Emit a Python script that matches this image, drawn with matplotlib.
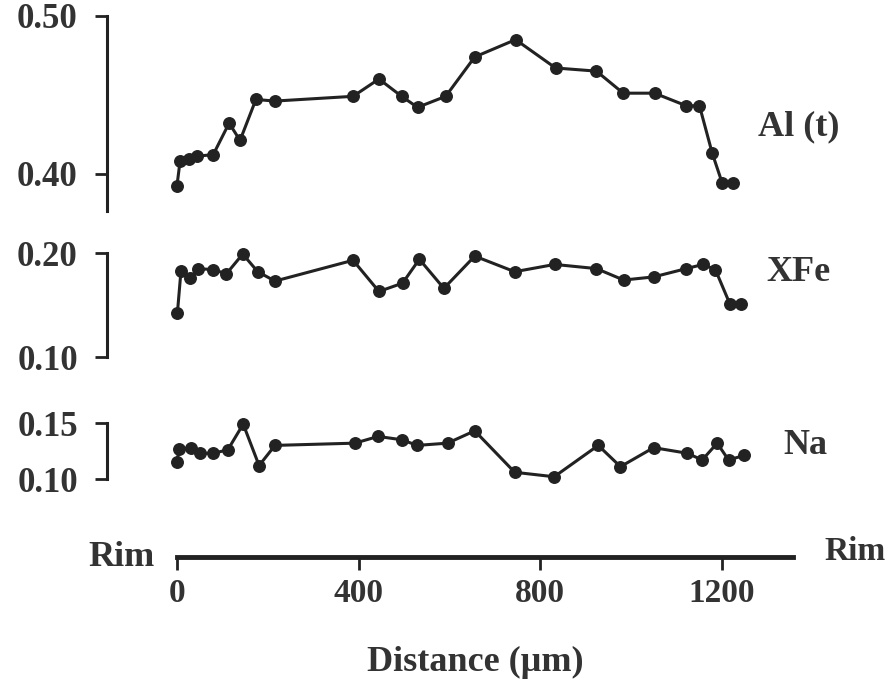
import matplotlib
matplotlib.use('Agg')
import matplotlib.pyplot as plt

# Профили по зерну: расстояние (мкм) и значения
al_x = [0, 7, 27, 45, 80, 115, 139, 174, 216, 388, 445, 495, 530, 592, 656, 746, 834, 924, 983, 1052, 1122, 1151, 1179, 1201, 1225]
al_y = [0.392, 0.408, 0.409, 0.411, 0.412, 0.432, 0.421, 0.447, 0.446, 0.449, 0.460, 0.449, 0.442, 0.449, 0.474, 0.485, 0.467, 0.465, 0.451, 0.451, 0.443, 0.443, 0.413, 0.394, 0.394]

xfe_x = [1, 9, 29, 47, 80, 109, 145, 178, 216, 388, 445, 497, 534, 588, 656, 744, 832, 924, 984, 1050, 1122, 1159, 1186, 1218, 1243]
xfe_y = [0.142, 0.183, 0.176, 0.185, 0.184, 0.180, 0.199, 0.182, 0.173, 0.193, 0.163, 0.171, 0.194, 0.166, 0.197, 0.182, 0.189, 0.185, 0.174, 0.177, 0.185, 0.189, 0.184, 0.151, 0.151]

na_x = [0, 5, 30, 51, 80, 112, 146, 181, 216, 392, 443, 496, 529, 596, 656, 744, 831, 928, 977, 1050, 1124, 1157, 1190, 1215, 1249]
na_y = [0.1155, 0.1265, 0.128, 0.123, 0.123, 0.126, 0.149, 0.112, 0.130, 0.132, 0.138, 0.135, 0.130, 0.132, 0.143, 0.106, 0.102, 0.130, 0.111, 0.128, 0.123, 0.117, 0.132, 0.117, 0.121]

labels = ['Al (t)', 'XFe', 'Na']
yticks = [[0.40, 0.50], [0.10, 0.20], [0.10, 0.15]]
ylims = [(0.3762, 0.50), (0.10, 0.20), (0.10, 0.15)]
x_ticks = [0, 400, 800, 1200]

plt.rcParams['font.family'] = 'Liberation Serif'
plt.rcParams['font.weight'] = 'bold'
line_c = '#222222'
text_c = '#333333'

W, H = 889, 693
fig = plt.figure(figsize=(W / 100, H / 100), dpi=100)

def box(x0, y0, x1, y1):
    # пиксели -> доли фигуры
    return [x0 / W, 1 - y1 / H, (x1 - x0) / W, (y1 - y0) / H]

xlim = (-154, 1357)
panels = [box(107, 16, 793, 211), box(107, 253, 793, 357), box(107, 423, 793, 479)]
series = [(al_x, al_y), (xfe_x, xfe_y), (na_x, na_y)]
label_pos = [(1369, 0.4298), (1370, 0.1817), (1384, 0.130)]

for i, rect in enumerate(panels):
    ax = fig.add_axes(rect)
    x, y = series[i]
    ax.plot(x, y, '-o', color=line_c, lw=2.2, ms=8.3, clip_on=False)
    ax.set_xlim(*xlim)
    ax.set_ylim(*ylims[i])
    for s in ['top', 'right', 'bottom']:
        ax.spines[s].set_visible(False)
    ax.spines['left'].set_linewidth(2.2)
    ax.spines['left'].set_color(line_c)
    ax.set_xticks([])
    ax.set_yticks(yticks[i])
    ax.set_yticklabels(['%.2f' % v for v in yticks[i]])
    ax.tick_params(axis='y', direction='out', length=9, width=2, color=line_c,
                   labelsize=25, labelcolor=text_c, pad=12)
    ax.patch.set_visible(False)
    ax.text(label_pos[i][0], label_pos[i][1], labels[i], fontsize=26,
            color=text_c, ha='center', va='center', fontweight='bold')

# Нижняя ось расстояния
axx = fig.add_axes(box(107, 500, 793, 557))
axx.set_xlim(*xlim)
axx.set_yticks([])
for s in ['top', 'right', 'left']:
    axx.spines[s].set_visible(False)
axx.spines['bottom'].set_bounds(0, xlim[1])
axx.spines['bottom'].set_linewidth(3.5)
axx.spines['bottom'].set_color(line_c)
axx.set_xticks(x_ticks)
axx.tick_params(axis='x', direction='out', length=9, width=2, color=line_c,
                labelsize=24, labelcolor=text_c, pad=6)
axx.patch.set_visible(False)

fig.text(155 / W, 1 - 557 / H, 'Rim', fontsize=26, color=text_c, ha='right', va='center')
fig.text(886 / W, 1 - 552 / H, 'Rim', fontsize=24, color=text_c, ha='right', va='center')
fig.text(475 / W, 1 - 662 / H, 'Distance (µm)', fontsize=26, color=text_c, ha='center', va='center')

fig.savefig('out.png', dpi=100)
